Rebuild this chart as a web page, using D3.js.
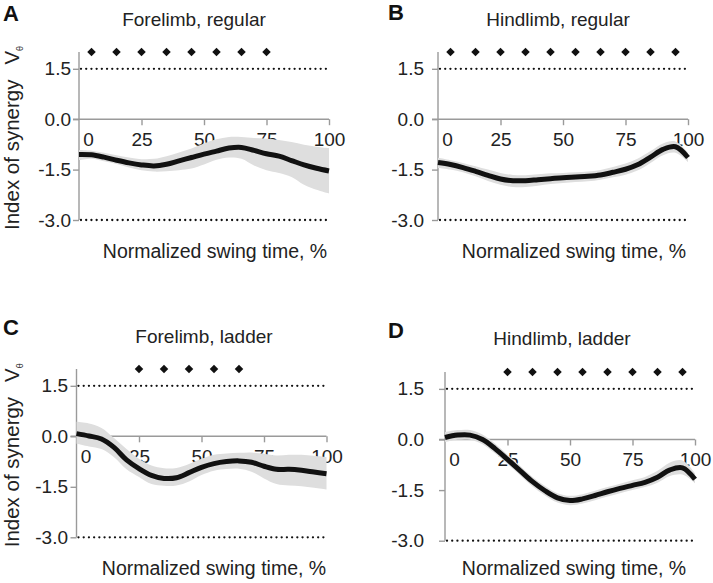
<!DOCTYPE html>
<html><head><meta charset="utf-8">
<script src="https://cdn.jsdelivr.net/npm/d3@7"></script>
<style>body{margin:0;background:#fff}svg{display:block}text{font-family:"Liberation Sans",Arial,sans-serif}</style>
</head><body>
<script>
const xs = [0,5,10,15,20,25,30,35,40,45,50,55,60,65,70,75,80,85,90,95,100];
const xTicks = [0,25,50,75,100];
const yTicks = [1.5,0,-1.5,-3];
const dottedLevels = [1.5,-3];
const titles = ["Forelimb, regular","Hindlimb, regular","Forelimb, ladder","Hindlimb, ladder"];
const letters = ["A","B","C","D"];

const meanA  = [-1.05,-1.06,-1.13,-1.22,-1.30,-1.36,-1.39,-1.34,-1.24,-1.14,-1.04,-0.95,-0.86,-0.84,-0.93,-1.03,-1.10,-1.23,-1.36,-1.46,-1.54];
const upperA = [-0.92,-0.94,-1.00,-1.07,-1.14,-1.19,-1.18,-1.10,-0.99,-0.87,-0.72,-0.60,-0.53,-0.53,-0.56,-0.58,-0.62,-0.68,-0.76,-0.82,-0.86];
const lowerA = [-1.22,-1.18,-1.25,-1.33,-1.44,-1.52,-1.56,-1.55,-1.52,-1.47,-1.35,-1.21,-1.14,-1.18,-1.38,-1.52,-1.60,-1.72,-1.95,-2.10,-2.21];

const meanB  = [-1.29,-1.35,-1.44,-1.55,-1.67,-1.78,-1.83,-1.83,-1.80,-1.77,-1.74,-1.72,-1.70,-1.66,-1.58,-1.49,-1.35,-1.13,-0.90,-0.82,-1.14];
const upperB = [-1.15,-1.22,-1.30,-1.40,-1.50,-1.60,-1.66,-1.67,-1.64,-1.61,-1.60,-1.58,-1.56,-1.51,-1.42,-1.32,-1.17,-0.95,-0.72,-0.66,-1.00];
const lowerB = [-1.45,-1.50,-1.58,-1.70,-1.84,-1.95,-2.02,-2.02,-1.98,-1.93,-1.90,-1.87,-1.85,-1.80,-1.73,-1.65,-1.52,-1.30,-1.07,-1.00,-1.28];

const meanC  = [0.08,0.01,-0.08,-0.33,-0.70,-0.96,-1.16,-1.25,-1.23,-1.08,-0.92,-0.81,-0.75,-0.73,-0.77,-0.89,-0.98,-0.98,-1.01,-1.06,-1.11];
const upperC = [0.43,0.38,0.25,-0.05,-0.38,-0.67,-0.87,-0.95,-0.94,-0.82,-0.67,-0.55,-0.51,-0.49,-0.48,-0.52,-0.57,-0.55,-0.55,-0.58,-0.62];
const lowerC = [-0.22,-0.30,-0.38,-0.62,-0.98,-1.21,-1.42,-1.47,-1.46,-1.34,-1.15,-1.02,-0.97,-0.96,-1.05,-1.25,-1.42,-1.46,-1.48,-1.53,-1.58];

const meanD  = [0.06,0.13,0.13,0.00,-0.27,-0.59,-0.92,-1.25,-1.52,-1.73,-1.81,-1.76,-1.66,-1.55,-1.45,-1.36,-1.27,-1.12,-0.90,-0.84,-1.18];
const upperD = [0.22,0.28,0.28,0.15,-0.12,-0.45,-0.78,-1.11,-1.38,-1.59,-1.67,-1.62,-1.52,-1.41,-1.31,-1.21,-1.11,-0.93,-0.68,-0.62,-1.00];
const lowerD = [-0.08,-0.01,-0.01,-0.14,-0.41,-0.73,-1.06,-1.39,-1.66,-1.87,-1.95,-1.90,-1.80,-1.69,-1.59,-1.50,-1.41,-1.28,-1.08,-1.04,-1.30];

const sigA = [5,15,25,35,45,55,65,75];
const sigB = [5,15,25,35,45,55,65,75,85,95];
const sigC = [25,35,45,55,65];
const sigD = [25,35,45,55,65,75,85,95];

const panels = [
  {mean:meanA, up:upperA, lo:lowerA, sig:sigA, x0:79, yb:220, yt:52, lblR:71, letX:3, letY:21, titleX:194, titleY:26, ylab:true, xlabX:215, xlabY:258},
  {mean:meanB, up:upperB, lo:lowerB, sig:sigB, x0:438, yb:220, yt:52, lblR:424, letX:388, letY:20, titleX:558, titleY:26, ylab:false, xlabX:574, xlabY:258},
  {mean:meanC, up:upperC, lo:lowerC, sig:sigC, x0:76.5, yb:537.3, yt:369, lblR:68, letX:3, letY:335, titleX:204, titleY:343, ylab:true, xlabX:214, xlabY:575},
  {mean:meanD, up:upperD, lo:lowerD, sig:sigD, x0:445, yb:540.7, yt:372, lblR:424, letX:388, letY:338, titleX:562, titleY:345, ylab:false, xlabX:574, xlabY:575}
];

const svg = d3.select("body").append("svg").attr("width",713).attr("height",583);
const axisCol = "#9a9a9a";
const txtCol = "#222";
const fmtY = v => d3.format(".1f")(v).replace("\u2212","-");

panels.forEach((p,i)=>{
  const g = svg.append("g");
  const x = d3.scaleLinear().domain([0,100]).range([p.x0, p.x0+250]);
  const y = d3.scaleLinear().domain([-3,2]).range([p.yb, p.yt]);

  // letter & title
  g.append("text").attr("x",p.letX).attr("y",p.letY).attr("font-size",22).attr("font-weight","bold").attr("fill","#111").text(letters[i]);
  g.append("text").attr("x",p.titleX).attr("y",p.titleY).attr("text-anchor","middle").attr("font-size",19).attr("fill",txtCol).text(titles[i]);

  // y axis
  const yAx = d3.axisLeft(y).tickValues(yTicks).tickSize(6).tickFormat(fmtY);
  const ga = g.append("g").attr("transform",`translate(${p.x0},0)`).call(yAx);
  ga.select(".domain").attr("d",`M0,${y(2)}V${y(-3)}`).attr("stroke",axisCol).attr("stroke-width",1.4);
  ga.selectAll(".tick line").attr("stroke",axisCol).attr("stroke-width",1.4);
  ga.selectAll(".tick text").attr("x",p.lblR - p.x0).attr("font-size",19).attr("fill",txtCol).style("font-family","Liberation Sans, Arial, sans-serif");

  // x axis at y=0
  const xAx = d3.axisBottom(x).tickValues(xTicks).tickSize(6).tickSizeOuter(0).tickFormat(d3.format("d"));
  const gx = g.append("g").attr("transform",`translate(0,${y(0)})`).call(xAx);
  gx.select(".domain").attr("d",`M${p.x0-6},0H${p.x0+250}`).attr("stroke",axisCol).attr("stroke-width",1.4);
  gx.selectAll(".tick line").attr("stroke",axisCol).attr("stroke-width",1.4);
  gx.selectAll(".tick line").filter(d=>d===0).remove();
  gx.selectAll(".tick text").attr("y",13).attr("dy","0.71em").attr("font-size",19).attr("fill",txtCol).style("font-family","Liberation Sans, Arial, sans-serif")
    .attr("dx",d=>d===0?9:0);

  // dotted reference lines
  dottedLevels.forEach(v=>{
    g.append("line").attr("x1",x(0)+2).attr("x2",x(100)).attr("y1",y(v)).attr("y2",y(v))
      .attr("stroke","#111").attr("stroke-width",2.3).attr("stroke-linecap","round").attr("stroke-dasharray","0.01,5.2");
  });

  // y label
  if(p.ylab){
    const t = g.append("text").attr("transform",`translate(19,${p.yb+10}) rotate(-90)`).attr("font-size",20.5).attr("fill",txtCol);
    t.append("tspan").text("Index of synergy");
    t.append("tspan").attr("dx",15).text("V");
    t.append("tspan").attr("font-size",9).attr("dy",4).text("θ");
  }
  // x label
  g.append("text").attr("x",p.xlabX).attr("y",p.xlabY).attr("text-anchor","middle").attr("font-size",19.5).attr("fill",txtCol).text("Normalized swing time, %");

  // band and mean
  const pts = xs.map((v,k)=>({x:v,m:p.mean[k],u:p.up[k],l:p.lo[k]}));
  g.append("path").datum(pts).attr("fill","#dedede")
    .attr("d",d3.area().x(d=>x(d.x)).y0(d=>y(d.l)).y1(d=>y(d.u)).curve(d3.curveCatmullRom));
  g.append("path").datum(pts).attr("fill","none").attr("stroke","#111").attr("stroke-width",5)
    .attr("d",d3.line().x(d=>x(d.x)).y(d=>y(d.m)).curve(d3.curveCatmullRom));

  // significance diamonds
  g.selectAll(".dm").data(p.sig).enter().append("path")
    .attr("d",d3.symbol(d3.symbolSquare,36)())
    .attr("transform",d=>`translate(${x(d)},${y(2)}) rotate(45)`).attr("fill","#111");
});
</script>
</body></html>
